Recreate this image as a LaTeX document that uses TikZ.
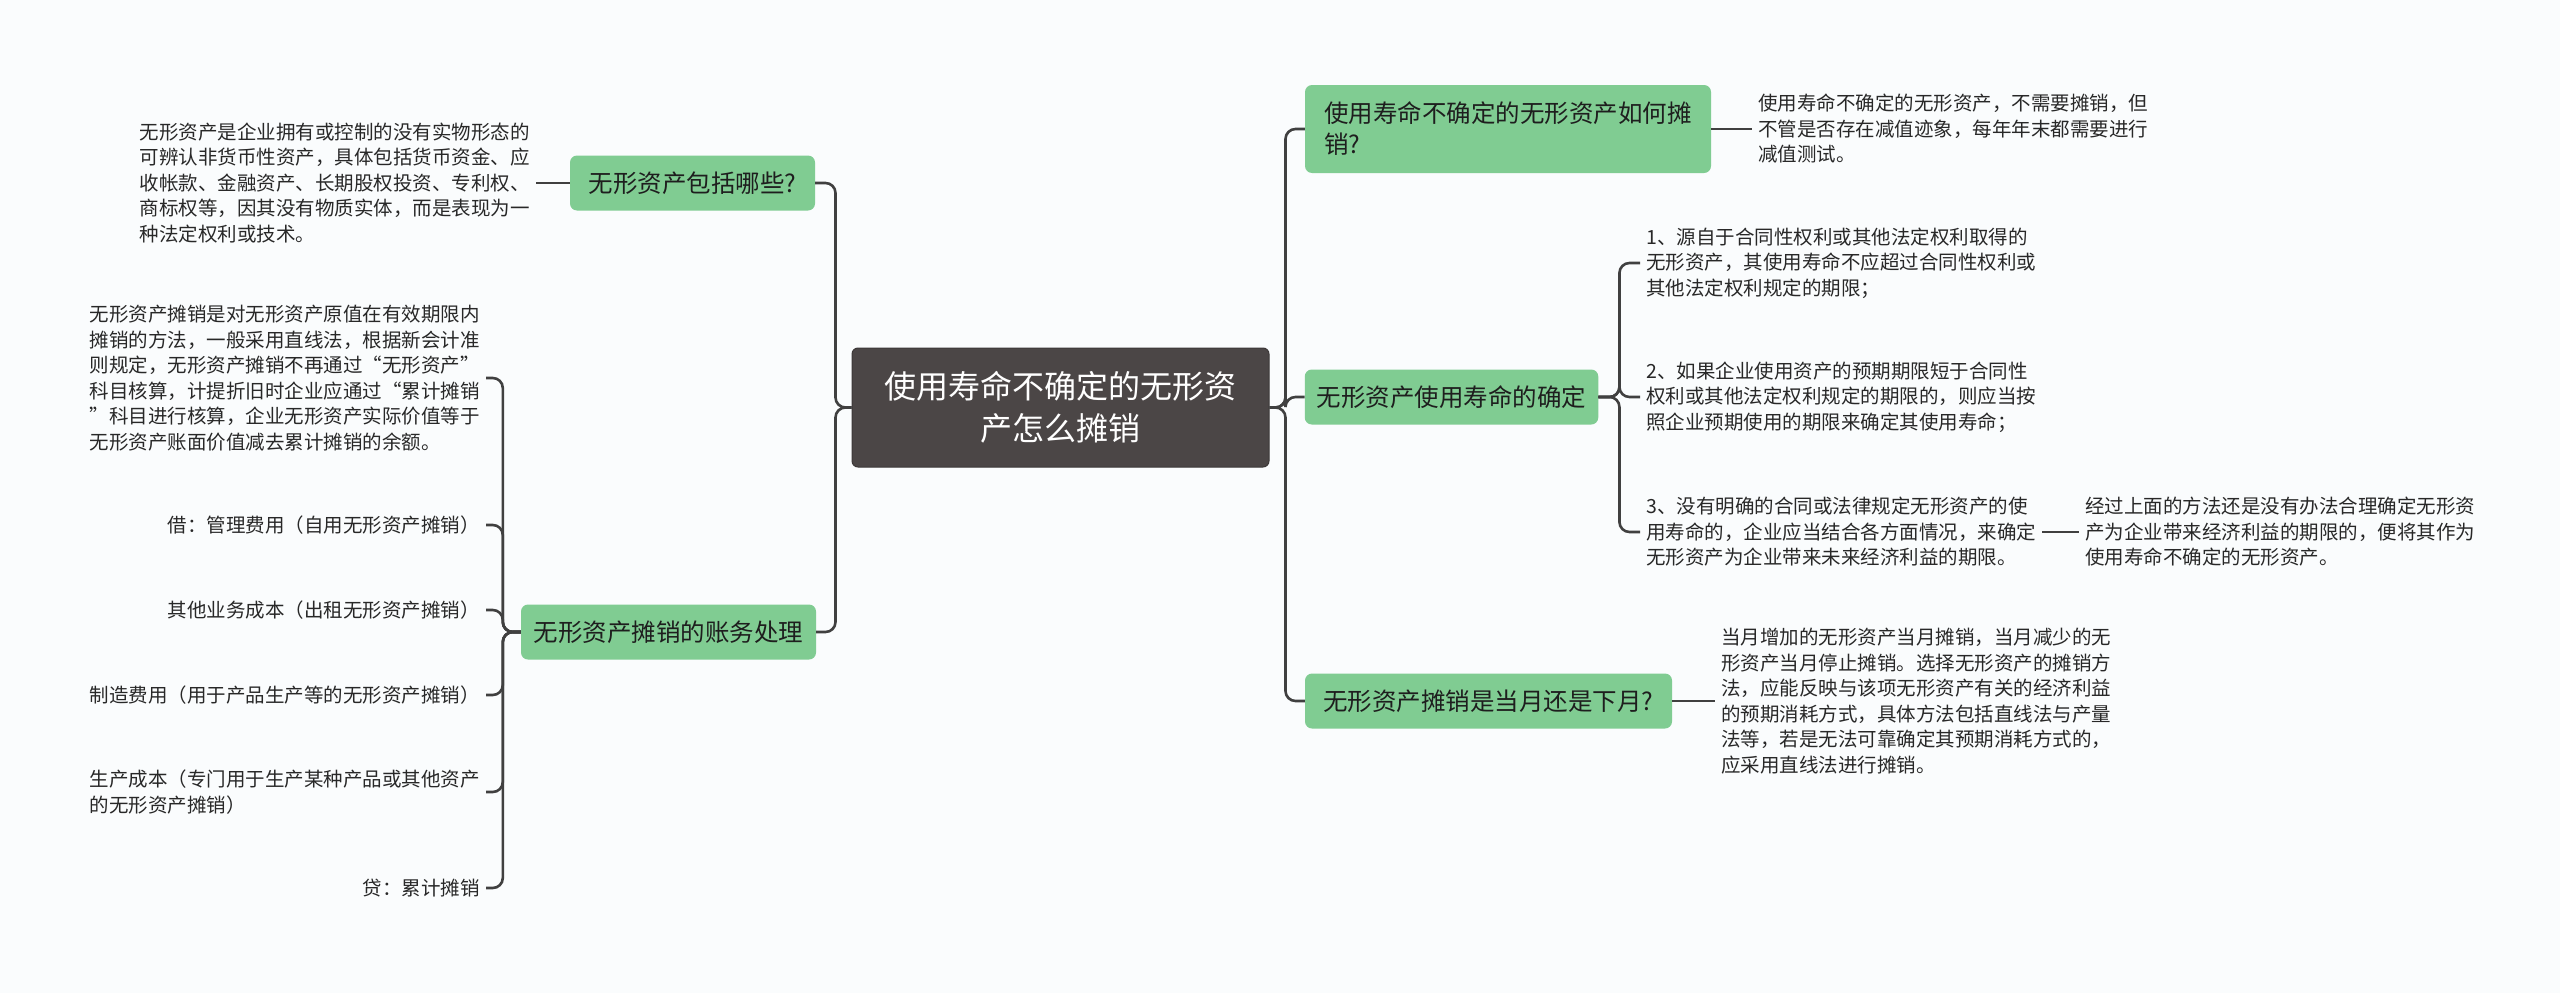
\documentclass[tikz,border=0pt]{standalone}
\usepackage{fontspec}
\setmainfont{Noto Sans CJK SC}
\definecolor{bgpaper}{RGB}{250,252,253}
\definecolor{rootgray}{RGB}{75,70,70}
\definecolor{topicgreen}{RGB}{128,204,146}
\definecolor{topictext}{RGB}{30,30,30}
\definecolor{leaftext}{RGB}{40,40,40}
\definecolor{linkgray}{RGB}{64,64,64}

\begin{document}
\begin{tikzpicture}[x=1pt, y=-1pt,
    root/.style={fill=rootgray, draw=rootgray!80!black, line width=1pt,
                 rounded corners=6pt, text=white, align=center,
                 minimum width=417pt, minimum height=119pt,
                 font=\fontsize{32}{42}\selectfont},
    topic/.style={fill=topicgreen, rounded corners=7pt, text=topictext,
                  minimum height=55pt, inner xsep=12pt,
                  font=\fontsize{24.5}{31}\selectfont},
    leaf/.style={text=leaftext, align=left, inner xsep=6pt, inner ysep=0pt,
                 font=\fontsize{19.5}{25.5}\selectfont},
    link/.style={draw=linkgray, line width=2.6pt, rounded corners=10pt}
  ]
  \fill[bgpaper] (0, 0) rectangle (2560, 993);

  \node[root] (root) at (1060.5, 407.5) {使用寿命不确定的无形资\\产怎么摊销};

  % left
  \node[topic, minimum width=245pt] (what) at (692.5, 183) {无形资产包括哪些?};
  \node[topic, minimum width=295pt] (books) at (668.5, 632) {无形资产摊销的账务处理};

  \node[leaf, anchor=east] (whattxt) at (536, 183)
    {无形资产是企业拥有或控制的没有实物形态的\\可辨认非货币性资产，具体包括货币资金、应\\收帐款、金融资产、长期股权投资、专利权、\\商标权等，因其没有物质实体，而是表现为一\\种法定权利或技术。};
  \node[leaf, anchor=east] (bk0) at (486, 378)
    {无形资产摊销是对无形资产原值在有效期限内\\摊销的方法，一般采用直线法，根据新会计准\\则规定，无形资产摊销不再通过“无形资产”\\科目核算，计提折旧时企业应通过“累计摊销\\”科目进行核算，企业无形资产实际价值等于\\无形资产账面价值减去累计摊销的余额。};
  \node[leaf, anchor=east] (bk1) at (486, 525) {借：管理费用（自用无形资产摊销）};
  \node[leaf, anchor=east] (bk2) at (486, 610) {其他业务成本（出租无形资产摊销）};
  \node[leaf, anchor=east] (bk3) at (486, 695) {制造费用（用于产品生产等的无形资产摊销）};
  \node[leaf, anchor=east] (bk4) at (486, 792)
    {生产成本（专门用于生产某种产品或其他资产\\的无形资产摊销）};
  \node[leaf, anchor=east] (bk5) at (486, 888) {贷：累计摊销};

  % right
  \node[topic, minimum width=406pt, minimum height=88pt, align=left] (how) at (1508, 129)
    {使用寿命不确定的无形资产如何摊\\销?};
  \node[topic, minimum width=293pt] (life) at (1451.5, 397) {无形资产使用寿命的确定};
  \node[topic, minimum width=367pt] (month) at (1488.5, 701) {无形资产摊销是当月还是下月?};

  \node[leaf, anchor=west] (howtxt) at (1752, 129)
    {使用寿命不确定的无形资产，不需要摊销，但\\不管是否存在减值迹象，每年年末都需要进行\\减值测试。};
  \node[leaf, anchor=west] (life1) at (1640, 263)
    {1、源自于合同性权利或其他法定权利取得的\\无形资产，其使用寿命不应超过合同性权利或\\其他法定权利规定的期限；};
  \node[leaf, anchor=west] (life2) at (1640, 397)
    {2、如果企业使用资产的预期期限短于合同性\\权利或其他法定权利规定的期限的，则应当按\\照企业预期使用的期限来确定其使用寿命；};
  \node[leaf, anchor=west] (life3) at (1640, 532)
    {3、没有明确的合同或法律规定无形资产的使\\用寿命的，企业应当结合各方面情况，来确定\\无形资产为企业带来未来经济利益的期限。};
  \node[leaf, anchor=west] (life3txt) at (2079, 532)
    {经过上面的方法还是没有办法合理确定无形资\\产为企业带来经济利益的期限的，便将其作为\\使用寿命不确定的无形资产。};
  \node[leaf, anchor=west] (monthtxt) at (1715, 701)
    {当月增加的无形资产当月摊销，当月减少的无\\形资产当月停止摊销。选择无形资产的摊销方\\法，应能反映与该项无形资产有关的经济利益\\的预期消耗方式，具体方法包括直线法与产量\\法等，若是无法可靠确定其预期消耗方式的，\\应采用直线法进行摊销。};

  % links
  \foreach \t in {what, books}
    \draw[link] (root.west) -- ++(-16, 0) |- (\t.east);
  \foreach \t in {how, life, month}
    \draw[link] (root.east) -- ++(16, 0) |- (\t.west);
  \draw[link] (what.west) -- (whattxt.east);
  \foreach \t in {bk0, bk1, bk2, bk3, bk4, bk5}
    \draw[link] (books.west) -- ++(-18, 0) |- (\t.east);
  \draw[link] (how.east) -- (howtxt.west);
  \foreach \t in {life1, life2, life3}
    \draw[link] (life.east) -- ++(21, 0) |- (\t.west);
  \draw[link] (life3.east) -- (life3txt.west);
  \draw[link] (month.east) -- (monthtxt.west);
\end{tikzpicture}
\end{document}
